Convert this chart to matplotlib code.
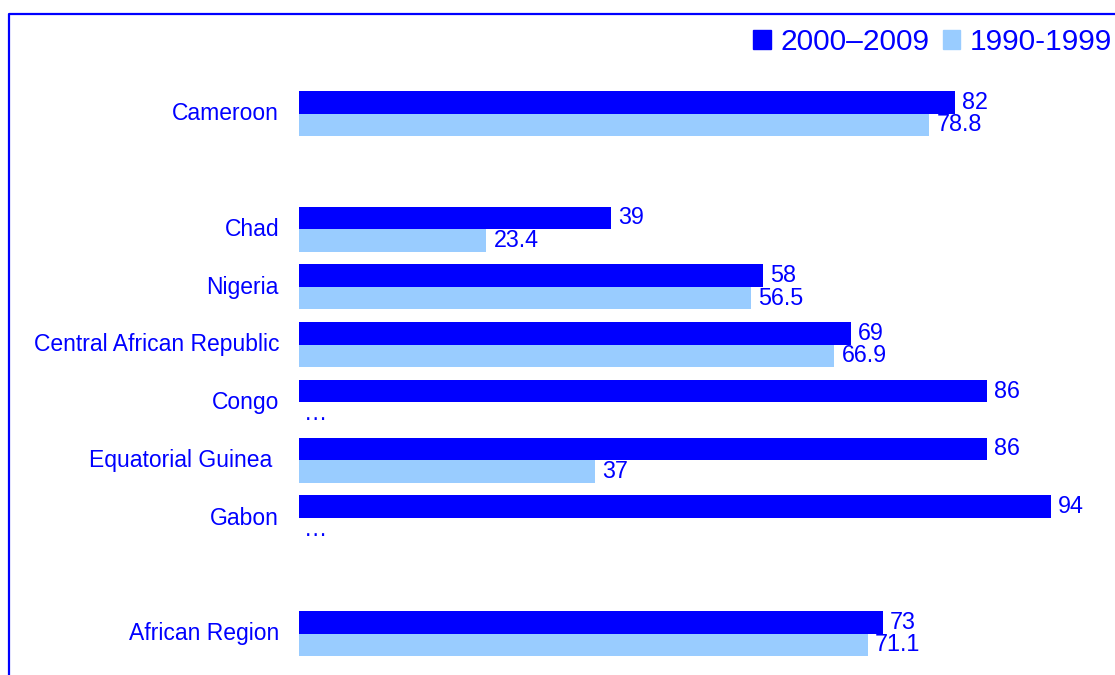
import matplotlib.pyplot as plt
from matplotlib.lines import Line2D
from matplotlib.patches import Patch

plt.rcParams['font.family'] = ['Liberation Sans', 'DejaVu Sans']

# data (None = blank row / no data)
rows = ['Cameroon', None, 'Chad', 'Nigeria', 'Central African Republic', 'Congo',
        'Equatorial Guinea ', 'Gabon', None, 'African Region']
val_2000s = [82, None, 39, 58, 69, 86, 86, 94, None, 73]
val_1990s = [78.8, None, 23.4, 56.5, 66.9, None, 37, None, None, 71.1]
series_names = ['2000\u20132009', '1990-1999']

dark = '#0000FF'
light = '#99CCFF'
txt = '#0000FF'

fig = plt.figure(figsize=(11.15, 6.75), dpi=100)
ax = fig.add_axes([299 / 1115, 0, 1 - 299 / 1115, 1])

h = 0.39
for i, (name, a, b) in enumerate(zip(rows, val_2000s, val_1990s)):
    if name is None:
        continue
    ax.barh(i - h / 2, a, height=h, color=dark)
    ax.text(a + 0.9, i - h / 2, f'{a:g}', va='center', ha='left', color=txt, fontsize=16.8)
    if b is None:
        ax.text(0.6, i + h / 2, '\u2026', va='center', ha='left', color=txt, fontsize=16.8)
    else:
        ax.barh(i + h / 2, b, height=h, color=light)
        ax.text(b + 0.9, i + h / 2, f'{b:g}', va='center', ha='left', color=txt, fontsize=16.8)

ticks = [i for i, n in enumerate(rows) if n is not None]
ax.set_yticks([t - 0.04 for t in ticks])
ax.set_yticklabels([rows[i] for i in ticks], color=txt, fontsize=16.5)
ax.tick_params(axis='y', length=0, pad=14.4)
ax.set_xticks([])
for s in ax.spines.values():
    s.set_visible(False)

px_row = (633.5 - 113.5) / 9
ax.set_ylim(9 + (675 - 633.5) / px_row, -113.5 / px_row)
ax.set_xlim(0, (1115 - 299) / 8.0)

# legend
handles = [Patch(color=dark), Patch(color=light)]
fig.legend(handles, series_names, loc='upper right', bbox_to_anchor=(0.997, 1.0 - 28 / 675),
           ncol=2, frameon=False, fontsize=21.5, labelcolor=txt,
           handlelength=0.6, handleheight=0.6, handletextpad=0.3, columnspacing=0.45,
           borderaxespad=0, borderpad=0)

# partial frame at top and left
fig.add_artist(Line2D([9 / 1115, 9 / 1115, 1], [0, 1 - 14 / 675, 1 - 14 / 675],
                      transform=fig.transFigure, color=dark, lw=1.6))

fig.savefig('out.png', dpi=100)
